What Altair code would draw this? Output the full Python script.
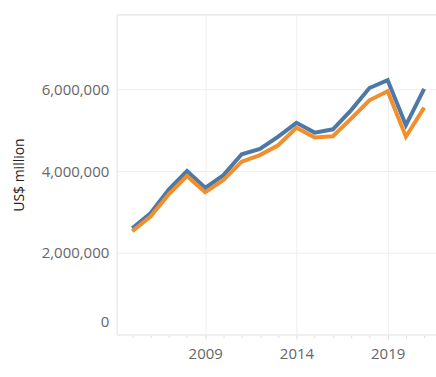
import altair as alt
import pandas as pd

years = list(range(2005, 2022))
blue_vals = [2.60, 2.97, 3.55, 4.00, 3.59, 3.90, 4.41, 4.54, 4.84, 5.18, 4.94, 5.02, 5.49, 6.03, 6.22, 5.12, 6.01]
orange_vals = [2.53, 2.89, 3.43, 3.88, 3.48, 3.78, 4.23, 4.39, 4.63, 5.06, 4.82, 4.85, 5.28, 5.73, 5.95, 4.84, 5.55]
series_names = ["Series A", "Series B"]
colors = ["#4e79a7", "#f28e2b"]

rows = []
for y, v in zip(years, blue_vals):
    rows.append({"year": y, "value": v * 1e6, "series": series_names[0]})
for y, v in zip(years, orange_vals):
    rows.append({"year": y, "value": v * 1e6, "series": series_names[1]})
df = pd.DataFrame(rows)

FONT = "Open Sans"
xscale = alt.Scale(domain=[2004.15, 2021.65], nice=False, zero=False)
yscale = alt.Scale(domain=[0, 7830000], nice=False)

yaxis = alt.Axis(values=[0, 2000000, 4000000, 6000000], format=",d",
                 title="US$ million", titleFont=FONT, titleFontSize=14,
                 titleFontWeight="normal", titleColor="#222222", titlePadding=15,
                 grid=True, gridColor="#efefef", domain=True, domainColor="#efefef",
                 ticks=False, labelFont=FONT, labelFontSize=15,
                 labelColor="#666666", labelPadding=8,
                 labelFlush=True, labelFlushOffset=-5)

base = alt.Chart(df)

minor = base.mark_line(opacity=0).encode(
    x=alt.X("year:Q", scale=xscale,
            axis=alt.Axis(values=years, labels=False, title=None, grid=False, orient="bottom",
                          domain=True, domainColor="#efefef", ticks=True,
                          tickColor="#dddddd", tickSize=3)),
    y=alt.Y("value:Q", scale=yscale, axis=yaxis),
    detail="series:N",
)

lines = base.mark_line(strokeWidth=4, clip=True).encode(
    x=alt.X("year:Q", scale=xscale,
            axis=alt.Axis(values=[2009, 2014, 2019], format="d", title=None, orient="bottom",
                          grid=True, gridColor="#efefef", domain=False, ticks=True,
                          tickColor="#e6e6e6", tickSize=5,
                          labelFont=FONT, labelFontSize=15, labelColor="#666666",
                          labelPadding=7)),
    y=alt.Y("value:Q", scale=yscale, axis=yaxis),
    color=alt.Color("series:N", scale=alt.Scale(domain=series_names[::-1], range=colors[::-1]), legend=None),
    order=alt.Order("series:N", sort="descending"),
)

chart = alt.layer(minor, lines).resolve_axis(x="independent", y="shared").properties(
    width=320, height=321,
    padding={"left": 117, "top": 14, "right": 0, "bottom": 42},
    autosize=alt.AutoSizeParams(type="none"),
).configure_view(stroke=None).configure(background="white")

chart.save("out.html", embed_options={"renderer": "svg", "actions": False})
